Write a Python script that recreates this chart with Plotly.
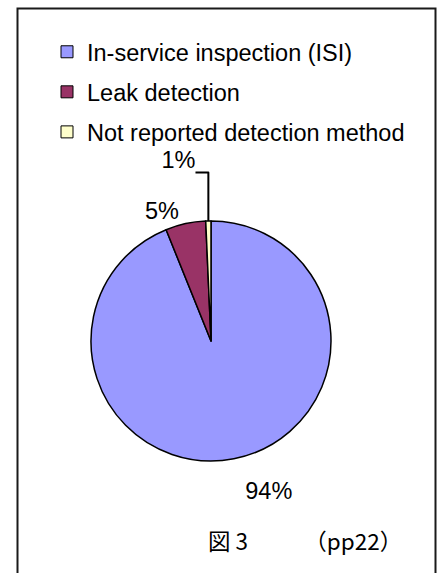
import plotly.graph_objects as go

# Detection method share of reported events
categories = ["In-service inspection (ISI)", "Leak detection", "Not reported detection method"]
shares = [93.9, 5.4, 0.7]
colors = ["#9999FF", "#993366", "#FFFFCC"]
caption = "図 3　　　（pp22）"

W, H = 439, 573
FONT = "Liberation Sans, Arial, sans-serif"

# Percent labels; small spacer lines nudge the outside labels further out
SPACER = "<span style='font-size:11px'> </span>"
TINY = "<span style='font-size:1px'> </span>"
label_templates = [SPACER + "<br>%{percent:.0%}",
                   "%{percent:.0%}",
                   "%{percent:.0%}<br>" + TINY]

fig = go.Figure()

# Pie, drawn clockwise from 12 o'clock
cx, cy, r = 211, 341, 120
fig.add_trace(go.Pie(
    labels=categories,
    values=shares,
    sort=False,
    direction="clockwise",
    rotation=0,
    marker=dict(colors=colors, line=dict(color="black", width=1.5)),
    texttemplate=label_templates,
    textposition="outside",
    outsidetextfont=dict(family=FONT, size=23.5, color="black"),
    showlegend=False,
    domain=dict(x=[(cx - r) / W, (cx + r) / W],
                y=[(H - cy - r) / H, (H - cy + r) / H]),
))

# Legend entries, one group per category so the rows can be spaced apart
for name, col in zip(categories, colors):
    fig.add_trace(go.Scatter(
        x=[None], y=[None], mode="markers", name=name, legendgroup=name,
        marker=dict(symbol="square", size=12, color=col,
                    line=dict(color="black", width=1)),
    ))

fig.add_shape(type="rect", xref="paper", yref="paper",
              x0=17.5 / W, x1=435.5 / W, y0=-0.05, y1=1 - 8.5 / H,
              line=dict(color="#1a1a1a", width=2), fillcolor="rgba(0,0,0,0)")

fig.add_annotation(text=caption, xref="paper", yref="paper",
                   x=206 / W, y=1 - 540 / H, xanchor="left", yanchor="middle",
                   showarrow=False,
                   font=dict(family="Noto Sans CJK JP", size=22.5, color="black"))

fig.update_layout(
    width=W, height=H,
    margin=dict(l=0, r=0, t=0, b=0),
    paper_bgcolor="white", plot_bgcolor="white",
    xaxis=dict(visible=False), yaxis=dict(visible=False),
    legend=dict(x=47 / W, xanchor="left", y=1 - 30 / H, yanchor="top",
                font=dict(family=FONT, size=23.5, color="black"),
                tracegroupgap=6.5, bgcolor="rgba(0,0,0,0)",
                itemclick=False, itemdoubleclick=False),
)

fig.write_html("out.html")
